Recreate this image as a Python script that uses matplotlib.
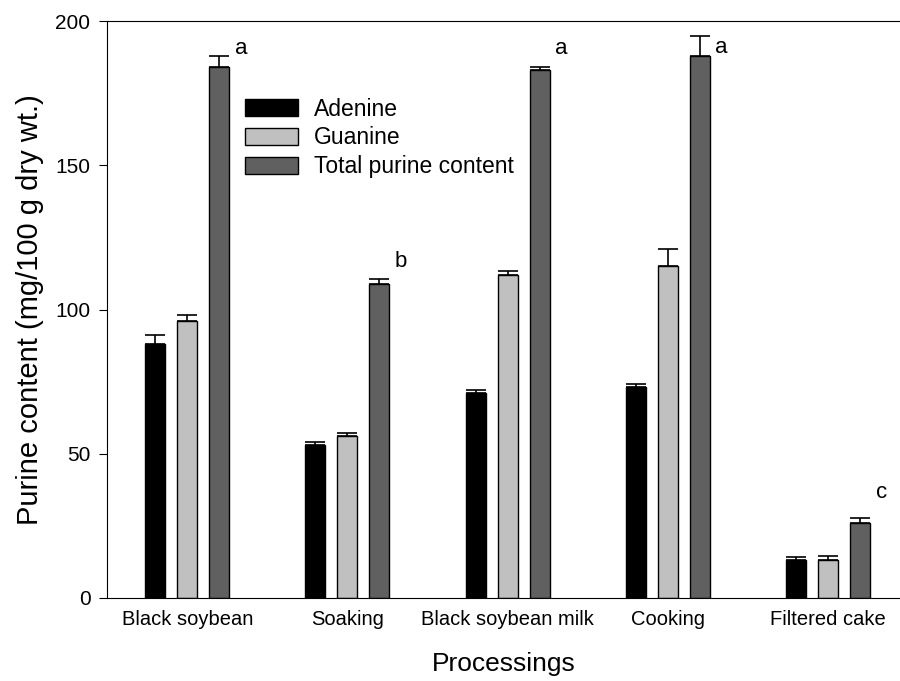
import numpy as np
import matplotlib.pyplot as plt

categories = ["Black soybean", "Soaking", "Black soybean milk", "Cooking", "Filtered cake"]
adenine = [88, 53, 71, 73, 13]
adenine_err = [3, 1.2, 1.2, 1.2, 1.2]
guanine = [96, 56, 112, 115, 13]
guanine_err = [2.2, 1.2, 1.2, 6, 1.5]
total = [184, 109, 183, 188, 26]
total_err = [4, 1.5, 1.2, 7, 1.8]
letters = ["a", "b", "a", "a", "c"]
letter_y = [190.5, 116.5, 190.5, 191, 36.5]

plt.rcParams['font.family'] = ['Liberation Sans', 'DejaVu Sans']

fig = plt.figure(figsize=(9, 6.81), dpi=100)
ax = fig.add_axes([0.119, 0.122, 0.881, 0.847])

x = np.arange(len(categories))
w = 0.125
off = 0.2
ekw = dict(elinewidth=1.2, capthick=1.2)

def errs(e):
    return [np.zeros(len(e)), e]

ax.bar(x - off, adenine, w, color="black", edgecolor="black", linewidth=1,
       yerr=errs(adenine_err), capsize=7, error_kw=ekw, label="Adenine")
ax.bar(x, guanine, w, color="#c0c0c0", edgecolor="black", linewidth=1,
       yerr=errs(guanine_err), capsize=7, error_kw=ekw, label="Guanine")
ax.bar(x + off, total, w, color="#606060", edgecolor="black", linewidth=1,
       yerr=errs(total_err), capsize=7, error_kw=ekw, label="Total purine content")

for i in range(len(categories)):
    ax.text(x[i] + off + 0.135, letter_y[i], letters[i],
            fontsize=16, ha="center", va="center")

ax.set_xlim(-0.5, 4.45)
ax.set_ylim(0, 200)
ax.spines["right"].set_visible(False)
ax.set_yticks([0, 50, 100, 150, 200])
ax.set_xticks(x)
ax.set_xticklabels(categories, fontsize=14.5)
ax.tick_params(axis="x", length=0, pad=9)
ax.tick_params(axis="y", direction="out", length=6, labelsize=15, pad=6)

ax.set_ylabel("Purine content (mg/100 g dry wt.)", fontsize=21, labelpad=8)
ax.set_xlabel("Processings", fontsize=19, labelpad=16)

ax.legend(loc="upper left", bbox_to_anchor=(0.1625, 0.883), frameon=False,
          fontsize=16.5, handlelength=2.3, handleheight=0.75, labelspacing=0.25,
          handletextpad=0.7, borderaxespad=0)

plt.savefig("out.png")
